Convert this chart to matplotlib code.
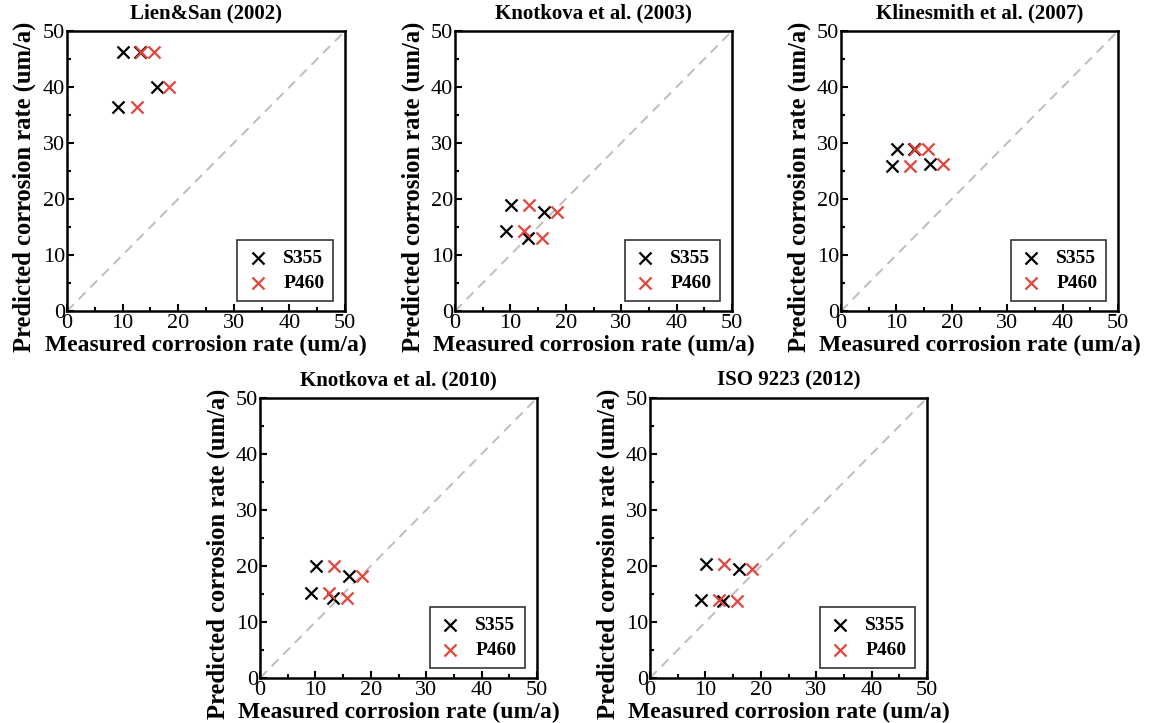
import matplotlib.pyplot as plt
from matplotlib.ticker import MultipleLocator

plt.rcParams["font.family"] = ["Liberation Serif", "DejaVu Serif"]

titles = ["Lien&San (2002)", "Knotkova et al. (2003)", "Klinesmith et al. (2007)",
          "Knotkova et al. (2010)", "ISO 9223 (2012)"]

# measured rates at the four sites
s355_measured = [9.2, 10.1, 13.2, 16.1]
p460_measured = [12.5, 13.3, 15.7, 18.4]

# predicted rates per model (same for both steels)
pred_lien = [36.5, 46.2, 46.3, 40.0]
pred_knot2003 = [14.2, 19.0, 13.0, 17.6]
pred_klines = [25.9, 28.9, 28.9, 26.2]
pred_knot2010 = [15.2, 20.0, 14.2, 18.3]
pred_iso = [14.0, 20.3, 13.7, 19.4]
predictions = [pred_lien, pred_knot2003, pred_klines, pred_knot2010, pred_iso]

# axes boxes in pixels (left, top, right, bottom) for a 1150x723 figure
boxes = [(67, 31, 345, 311), (455, 31, 732, 311), (841, 31, 1118, 311),
         (260, 398, 537, 678), (650, 398, 927, 678)]

W, H = 1150, 723
fig = plt.figure(figsize=(W / 100, H / 100), dpi=100)

for title, pred, (l, t, r, b) in zip(titles, predictions, boxes):
    ax = fig.add_axes([l / W, 1 - b / H, (r - l) / W, (b - t) / H])
    ax.plot([0, 50], [0, 50], color="#bdbdbd", ls=(0, (5, 3.5)), lw=1.4, zorder=1)
    ax.scatter(s355_measured, pred, marker="x", s=75, color="black", lw=1.6,
               label="S355", zorder=3)
    ax.scatter(p460_measured, pred, marker="x", s=75, color="#e2453c", lw=1.6,
               label="P460", zorder=4)
    ax.set_xlim(0, 50)
    ax.set_ylim(0, 50)
    ax.xaxis.set_major_locator(MultipleLocator(10))
    ax.yaxis.set_major_locator(MultipleLocator(10))
    ax.xaxis.set_minor_locator(MultipleLocator(5))
    ax.yaxis.set_minor_locator(MultipleLocator(5))
    ax.tick_params(which="both", direction="in", width=1.5, labelsize=16)
    ax.tick_params(axis="x", pad=2.5)
    ax.tick_params(axis="y", pad=1.5)
    ax.tick_params(which="major", length=5)
    ax.tick_params(which="minor", length=3)
    for sp in ax.spines.values():
        sp.set_linewidth(1.8)
    ax.set_title(title, fontsize=15, fontweight="bold", pad=9)
    ax.set_xlabel("Measured corrosion rate (um/a)", fontsize=17, fontweight="bold")
    ax.set_ylabel("Predicted corrosion rate (um/a)", fontsize=17.7, fontweight="bold")
    ax.xaxis.set_label_coords(0.5, -0.084)
    ax.yaxis.set_label_coords(-0.11, 0.445)
    leg = ax.legend(loc="lower right", fancybox=False, edgecolor="black",
                    prop={"weight": "bold", "size": 14}, handletextpad=0.7,
                    borderpad=0.45, labelspacing=0.4, handlelength=1.2,
                    borderaxespad=0, bbox_to_anchor=(0.957, 0.036))
    leg.get_frame().set_linewidth(1.2)

fig.savefig("out.png", dpi=100)
